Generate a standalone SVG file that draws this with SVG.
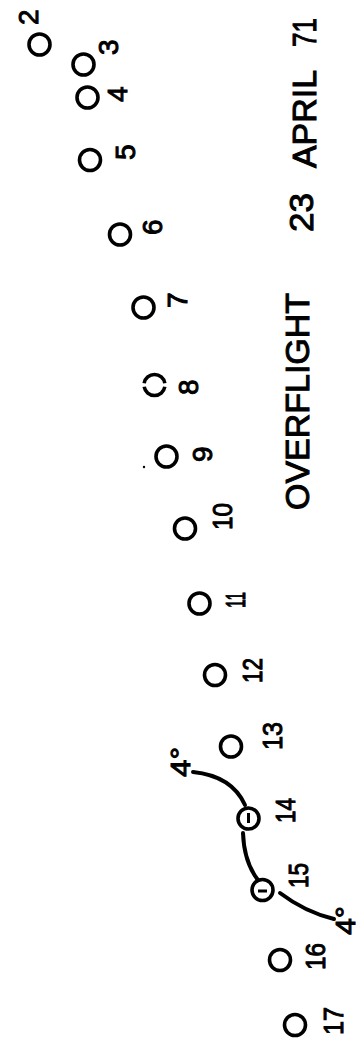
<svg xmlns="http://www.w3.org/2000/svg" width="362" height="1039" viewBox="0 0 362 1039">
<style>
.pt{fill:none;stroke:#000;stroke-width:3.6}
.lbl{font-family:"Liberation Sans",Arial,sans-serif;font-size:28px;fill:#000;stroke:#000;stroke-width:1}
.title{font-family:"Liberation Sans",Arial,sans-serif;font-size:34px;fill:#000;stroke:#000;stroke-width:1}
.arc{fill:none;stroke:#000;stroke-width:4;stroke-linecap:round}
</style>
<rect width="362" height="1039" fill="#fff"/>
<g id="title">
<text class="title" transform="translate(309,510) rotate(-90)" textLength="217" lengthAdjust="spacingAndGlyphs">OVERFLIGHT</text>
<text class="title" transform="translate(313,232) rotate(-90)" textLength="39" lengthAdjust="spacingAndGlyphs">23</text>
<text class="title" transform="translate(316,168) rotate(-90)" textLength="98" lengthAdjust="spacingAndGlyphs">APRIL</text>
<text class="title" transform="translate(316,47) rotate(-90)" textLength="29" lengthAdjust="spacingAndGlyphs">71</text>
</g>
<g id="p2"><circle class="pt" cx="39.5" cy="44.5" r="10.5"/><text class="lbl" transform="translate(38,25) rotate(-90)">2</text></g>
<g id="p3"><circle class="pt" cx="83.5" cy="64.5" r="10.5"/><text class="lbl" transform="translate(118,55) rotate(-90)">3</text></g>
<g id="p4"><circle class="pt" cx="87.5" cy="97.5" r="10.5"/><text class="lbl" transform="translate(127,102) rotate(-90)">4</text></g>
<g id="p5"><circle class="pt" cx="90" cy="160" r="10.5"/><text class="lbl" transform="translate(135,160) rotate(-90)">5</text></g>
<g id="p6"><circle class="pt" cx="120" cy="234.5" r="10.5"/><text class="lbl" transform="translate(162,235) rotate(-90)">6</text></g>
<g id="p7"><circle class="pt" cx="143.5" cy="307.5" r="10.5"/><text class="lbl" transform="translate(187,308) rotate(-90)">7</text></g>
<g id="p8"><path class="pt" d="M144.16,383.2 A10.5,10.5 0 0 1 164.84,383.2 M164.84,386.8 A10.5,10.5 0 0 1 144.16,386.8"/><text class="lbl" transform="translate(198,395) rotate(-90)">8</text></g>
<g id="p9"><circle class="pt" cx="166.5" cy="456.5" r="10.5"/><circle cx="144" cy="467" r="1.2" fill="#000"/><text class="lbl" transform="translate(212,462) rotate(-90)">9</text></g>
<g id="p10"><circle class="pt" cx="185" cy="528.5" r="10.5"/><text class="lbl" transform="translate(232,530) rotate(-90)" textLength="27" lengthAdjust="spacingAndGlyphs">10</text></g>
<g id="p11"><circle class="pt" cx="199.5" cy="603.5" r="10.5"/><text class="lbl" transform="translate(245,608) rotate(-90)" textLength="16" lengthAdjust="spacingAndGlyphs">11</text></g>
<g id="p12"><circle class="pt" cx="215" cy="675" r="10.5"/><text class="lbl" transform="translate(262,683) rotate(-90)" textLength="25" lengthAdjust="spacingAndGlyphs">12</text></g>
<g id="p13"><circle class="pt" cx="231" cy="746.5" r="10.5"/><text class="lbl" transform="translate(282,750) rotate(-90)" textLength="28" lengthAdjust="spacingAndGlyphs">13</text></g>
<g id="p14"><circle class="pt" cx="248.5" cy="818.5" r="10.5"/><line x1="248.5" y1="813" x2="248.5" y2="823" stroke="#000" stroke-width="3"/><text class="lbl" transform="translate(295,823) rotate(-90)" textLength="25" lengthAdjust="spacingAndGlyphs">14</text></g>
<g id="p15"><circle class="pt" cx="262.5" cy="890" r="10.5"/><line x1="258" y1="891" x2="267" y2="891" stroke="#000" stroke-width="3"/><text class="lbl" transform="translate(308,888) rotate(-90)" textLength="25" lengthAdjust="spacingAndGlyphs">15</text></g>
<g id="p16"><circle class="pt" cx="280" cy="960" r="10.5"/><text class="lbl" transform="translate(325,970) rotate(-90)" textLength="27" lengthAdjust="spacingAndGlyphs">16</text></g>
<g id="p17"><circle class="pt" cx="295" cy="1025" r="10.5"/><text class="lbl" transform="translate(343,1035) rotate(-90)" textLength="28" lengthAdjust="spacingAndGlyphs">17</text></g>
<g id="deg1"><text class="lbl" transform="translate(190,777) rotate(-90)" textLength="30" lengthAdjust="spacingAndGlyphs">4°</text></g>
<g id="deg2"><text class="lbl" transform="translate(355,935) rotate(-90)" font-size="24" textLength="29" lengthAdjust="spacingAndGlyphs">4°</text></g>
<g id="connectors">
<path class="arc" d="M193,772 Q232,776 245,805"/>
<path class="arc" d="M243,833 Q244,862 258,880"/>
<path class="arc" d="M280,893 Q305,912 334,919"/>
</g>
</svg>
